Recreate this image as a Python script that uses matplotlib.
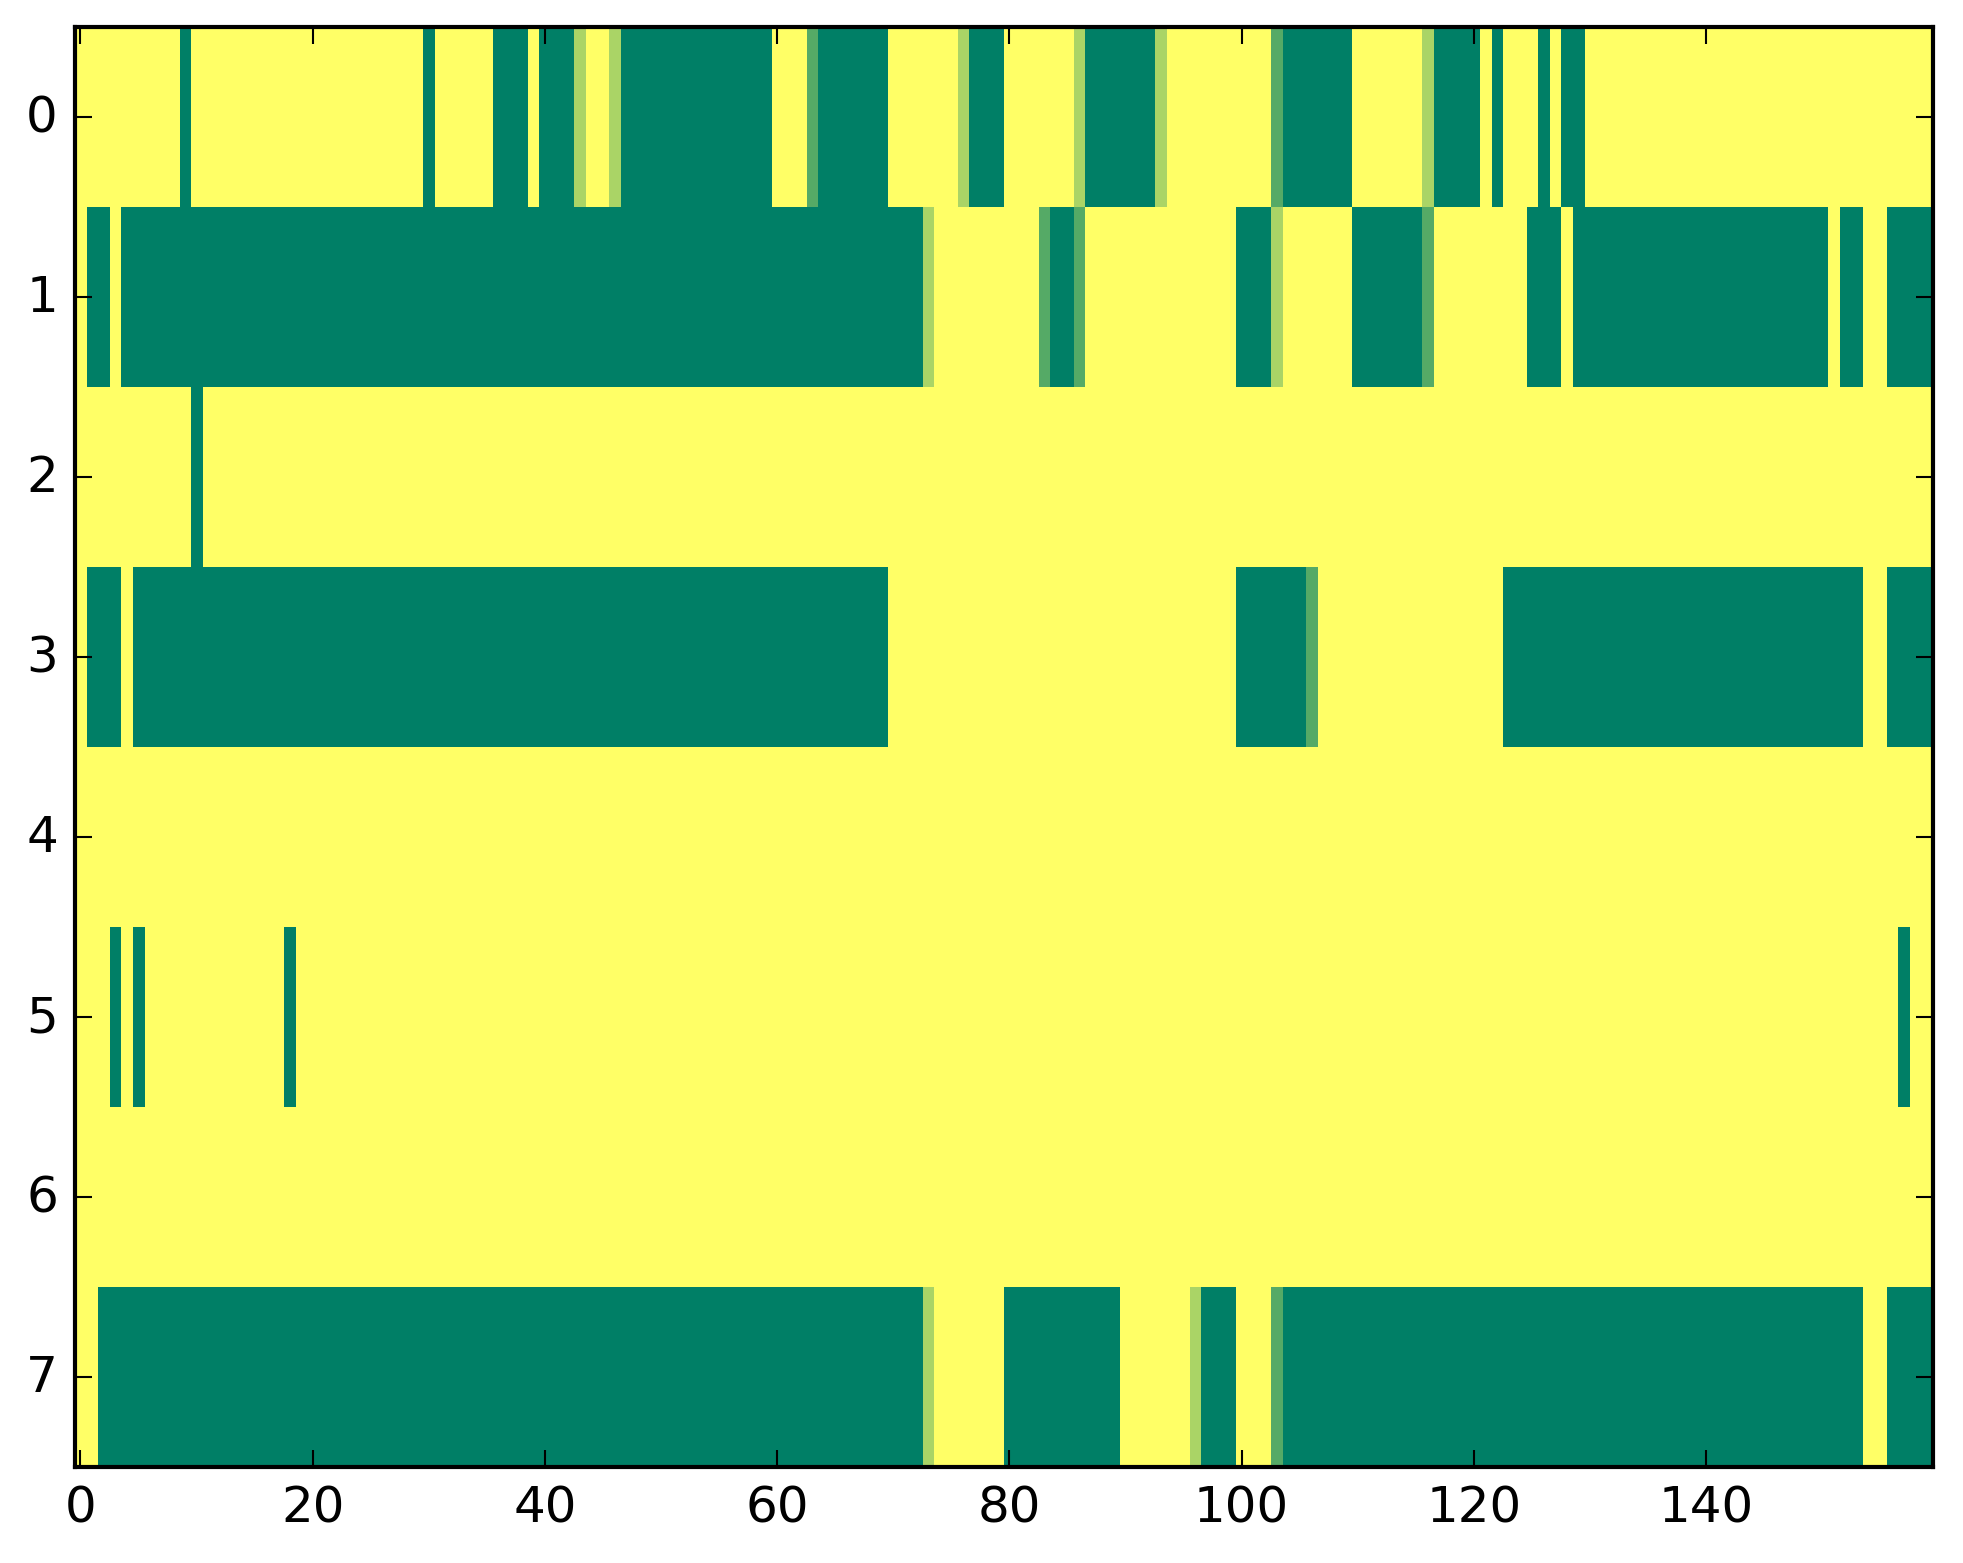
import matplotlib
matplotlib.use('Agg')
import matplotlib.pyplot as plt
import numpy as np

plt.style.use('classic')

# cell codes, 10 columns per group: 0 = green, 1 = mid green, 2 = light green, 3 = yellow
rows = [
    "3333333330 3333333333 3333333333 0333330003 0002332000 0000000000 3331000000 3333332000 "
    "3333332000 0002333333 3331000000 3333332000 0303330300 3333333333 3333333333 3333333333",
    "3003000000 0000000000 0000000000 0000000000 0000000000 0000000000 0000000000 0002333333 "
    "3331001333 3333333333 0002333333 0000001333 3333300030 0000000000 0000000000 0300330000",
    "3333333333 0333333333 3333333333 3333333333 3333333333 3333333333 3333333333 3333333333 "
    "3333333333 3333333333 3333333333 3333333333 3333333333 3333333333 3333333333 3333333333",
    "3000300000 0000000000 0000000000 0000000000 0000000000 0000000000 0000000000 3333333333 "
    "3333333333 3333333333 0000001333 3333333333 3330000000 0000000000 0000000000 0000330000",
    "3333333333 3333333333 3333333333 3333333333 3333333333 3333333333 3333333333 3333333333 "
    "3333333333 3333333333 3333333333 3333333333 3333333333 3333333333 3333333333 3333333333",
    "3330303333 3333333303 3333333333 3333333333 3333333333 3333333333 3333333333 3333333333 "
    "3333333333 3333333333 3333333333 3333333333 3333333333 3333333333 3333333333 3333333033",
    "3333333333 3333333333 3333333333 3333333333 3333333333 3333333333 3333333333 3333333333 "
    "3333333333 3333333333 3333333333 3333333333 3333333333 3333333333 3333333333 3333333333",
    "3300000000 0000000000 0000000000 0000000000 0000000000 0000000000 0000000000 0002333333 "
    "0000000000 3333332000 3331000000 0000000000 0000000000 0000000000 0000000000 0000330000",
]

grid = np.array([[int(ch) for ch in r.replace(" ", "")] for r in rows]) / 3.0

fig = plt.figure(figsize=(1963 / 300, 1564 / 300), dpi=300)
ax = fig.add_axes([0.038, 0.0614, 0.9465, 0.9206])
ax.imshow(grid, cmap='summer', aspect='auto', interpolation='nearest', vmin=0, vmax=1)
ax.set_xlim(-0.5, grid.shape[1] - 0.5)
ax.set_ylim(grid.shape[0] - 0.5, -0.5)

fig.savefig('out.png', dpi=300)
